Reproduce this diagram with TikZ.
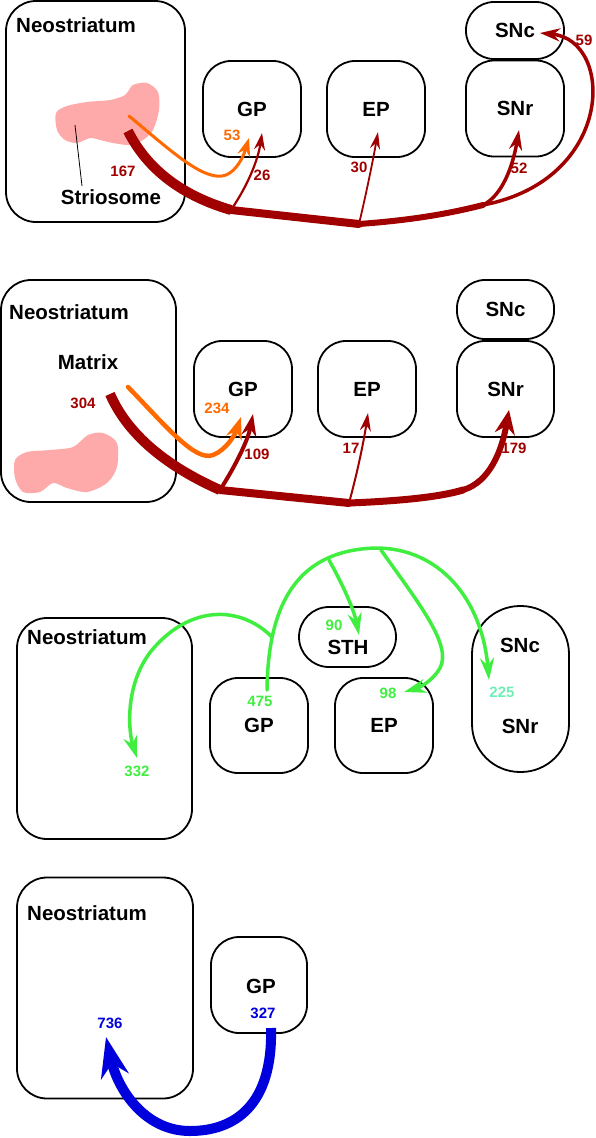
\documentclass[tikz,border=0pt]{standalone}
\usepackage{fontspec}
\setmainfont{Liberation Sans}
\usetikzlibrary{arrows.meta}
\usetikzlibrary{positioning}

\definecolor{tractred}{RGB}{160,0,0}
\definecolor{tractorange}{RGB}{255,105,0}
\definecolor{patchpink}{RGB}{255,170,170}
\definecolor{pallgreen}{RGB}{64,238,64}
\definecolor{pallaqua}{RGB}{110,238,180}
\definecolor{pallblue}{RGB}{0,0,220}

\newcommand{\nucfont}{\fontsize{20.5}{22}\selectfont\bfseries}
\newcommand{\cntfont}{\fontsize{15}{16}\selectfont\bfseries}

\tikzset{
  nucleus/.style={draw, line width=1.8pt, rounded corners=28pt, minimum width=98pt, minimum height=96pt, inner sep=0pt, font=\nucfont},
  pill/.style={nucleus, minimum height=58pt},
  striatum/.style={draw, line width=1.8pt, rounded corners=30pt, minimum width=176pt, minimum height=221pt},
  txt/.style={inner sep=0pt, font=\nucfont},
  cnt/.style={inner sep=0pt, font=\cntfont},
  tract/.style={draw=tractred, line cap=round, line join=round},
  pall/.style={draw=pallgreen, line width=3.5pt, line cap=round, -{Stealth[length=22pt,width=14pt]}},
}

\begin{document}
\begin{tikzpicture}[x=1pt, y=-1pt]
    \useasboundingbox (0,0) rectangle (596,1138);

    % ---------- striosome output (top) ----------
    \node[striatum, minimum width=179pt] (ns1) at (95.5,111.5) {};
    \node[txt, anchor=west] (ns1lab) at (16,25) {Neostriatum};
    % striosome patch
    \fill[patchpink] plot[smooth cycle] coordinates {(56,113) (67,106) (87,102) (110,100) (125,95) (133,85) (147,83) (158,92) (159,110) (153,130) (143,140) (130,145) (113,143) (100,140) (90,138) (77,143) (65,140) (57,130)};
    \node[txt] (strio) at (111,197) {Striosome};
    \coordinate (strioin) at (75,125);
    \coordinate (strioout) at (82,186);
    \draw[line width=0.8pt] (strioin) -- (strioout);
    \node[nucleus] (gp1) at (252,109) {GP};
    \node[nucleus] (ep1) at (376,109) {EP};
    \node[nucleus] (snr1) at (515,108.5) {SNr};
    \node[pill, minimum height=57pt] (snc1) at (515,30.5) {SNc};
    % junctions and arrow ends
    \coordinate (s1) at (128,131);
    \coordinate (c1) at (231,210);
    \coordinate (j1) at (359,224);
    \coordinate (j2) at (483,205);
    \coordinate (o1) at (129,116);
    \coordinate (gp1in) at (262,133);
    \coordinate (gp1or) at (249,138);
    \coordinate (ep1in) at (378,132);
    \coordinate (snr1in) at (519,130);
    \coordinate (snc1in) at (540,33);
    % main trunk
    \draw[tract, line width=10pt, line cap=butt] (s1) .. controls (150,175) and (190,198) .. (c1);
    \draw[tract, line width=8pt] (c1) -- (j1);
    \draw[tract, line width=6pt] (j1) .. controls (400,221) and (440,216) .. (j2);
    % branches
    \draw[tract, line width=2.2pt, -{Stealth[length=17pt,width=11pt]}] (c1) .. controls (248,185) and (258,160) .. (gp1in);
    \draw[tract, line width=1.8pt, -{Stealth[length=17pt,width=10pt]}] (j1) .. controls (367,190) and (373,160) .. (ep1in);
    \draw[tract, line width=3.5pt, -{Stealth[length=20pt,width=13pt]}] (j2) .. controls (503,195) and (513,165) .. (snr1in);
    \draw[tract, line width=3.5pt, -{Stealth[length=20pt,width=13pt]}] (j2) .. controls (615,180) and (615,40) .. (snc1in);
    \draw[draw=tractorange, line width=3pt, line cap=round, -{Stealth[length=18pt,width=13pt]}] (o1) .. controls (170,150) and (205,183) .. (226,175) .. controls (236,171) and (243,158) .. (gp1or);
    % counts
    \node[cnt, tractred] (n167) at (123,171) {167};
    \node[cnt, tractorange] (n53) at (232,135) {53};
    \node[cnt, tractred] (n26) at (262,175) {26};
    \node[cnt, tractred] (n30) at (359,167) {30};
    \node[cnt, tractred] (n52) at (519,168) {52};
    \node[cnt, tractred] (n59) at (584,40) {59};

    % ---------- matrix output ----------
    \node[striatum, minimum width=175pt, minimum height=222pt] (ns2) at (88.5,391) {};
    \node[txt, anchor=west] (ns2lab) at (9,312) {Neostriatum};
    \node[txt] (matrix) at (88,362) {Matrix};
    \fill[patchpink] plot[smooth cycle] coordinates {(15,460) (27,452) (50,450) (73,447) (88,435) (103,433) (117,443) (117,467) (107,483) (87,492) (67,488) (53,483) (40,492) (23,492) (15,478)};
    \node[nucleus] (gp2) at (243,389) {GP};
    \node[nucleus] (ep2) at (367,389) {EP};
    \node[nucleus, minimum width=97pt] (snr2) at (505.5,389) {SNr};
    \node[pill, minimum width=97pt, minimum height=59pt] (snc2) at (505.5,309.5) {SNc};
    \coordinate (s2) at (110,394);
    \coordinate (c2) at (220,490);
    \coordinate (j3) at (349,503);
    \coordinate (j4) at (463,490);
    \coordinate (o2) at (128,387);
    \coordinate (gp2in) at (253,414);
    \coordinate (gp2or) at (241,417);
    \coordinate (ep2in) at (368,413);
    \coordinate (snr2in) at (509,410);
    \draw[tract, line width=10pt, line cap=butt] (s2) .. controls (130,440) and (175,470) .. (c2);
    \draw[tract, line width=8pt] (c2) -- (j3);
    \draw[tract, line width=7pt] (j3) .. controls (400,501) and (440,497) .. (j4);
    \draw[tract, line width=6pt, -{Stealth[length=24pt,width=20pt]}] (j4) .. controls (490,482) and (502,450) .. (snr2in);
    \draw[tract, line width=4pt, -{Stealth[length=22pt,width=15pt]}] (c2) .. controls (236,465) and (248,440) .. (gp2in);
    \draw[tract, line width=2pt, -{Stealth[length=18pt,width=11pt]}] (j3) .. controls (358,470) and (364,440) .. (ep2in);
    \draw[draw=tractorange, line width=4.5pt, line cap=round, -{Stealth[length=22pt,width=16pt]}] (o2) .. controls (165,425) and (195,462) .. (213,455) .. controls (226,450) and (235,435) .. (gp2or);
    \node[cnt, tractred] (n304) at (83,403) {304};
    \node[cnt, tractorange] (n234) at (217,408) {234};
    \node[cnt, tractred] (n109) at (257,454) {109};
    \node[cnt, tractred] (n17) at (351,448) {17};
    \node[cnt, tractred] (n179) at (514,448) {179};

    % ---------- GP output ----------
    \node[striatum, minimum width=175pt] (ns3) at (104.5,728.5) {};
    \node[txt, anchor=west] (ns3lab) at (27,637) {Neostriatum};
    \node[nucleus, minimum height=95pt] (gp3) at (259,725.5) {GP};
    \node[nucleus, minimum height=95pt] (ep3) at (384,725.5) {EP};
    \node[pill, minimum width=97pt, minimum height=60pt, rounded corners=30pt] (sth3) at (347.5,637) {};
    \node[txt] (sth3lab) at (348,647) {STH};
    \node[nucleus, minimum width=97pt, minimum height=166pt, rounded corners=48pt] (sn3) at (520.5,689) {};
    \node[txt] (snc3lab) at (520,645) {SNc};
    \node[txt] (snr3lab) at (520,726) {SNr};
    \coordinate (g0) at (267,690);
    \coordinate (g1) at (272,637);
    \coordinate (g2) at (329,560);
    \coordinate (g3) at (381,550);
    \coordinate (ns3in) at (137,758);
    \coordinate (sth3in) at (359,635);
    \coordinate (ep3in) at (404,692);
    \coordinate (sn3in) at (489,680);
    \draw[pall] (g0) .. controls (268,600) and (300,550) .. (376,548) .. controls (440,548) and (482,600) .. (sn3in);
    \draw[pall] (g1) .. controls (240,605) and (190,605) .. (152,650) .. controls (125,683) and (128,730) .. (ns3in);
    \draw[pall] (g2) .. controls (343,585) and (354,610) .. (sth3in);
    \draw[pall] (g3) .. controls (420,605) and (452,645) .. (440,668) .. controls (432,682) and (418,688) .. (ep3in);
    \node[cnt, pallgreen] (n332) at (137,771) {332};
    \node[cnt, pallgreen] (n475) at (260,701) {475};
    \node[cnt, pallgreen] (n90) at (334,625) {90};
    \node[cnt, pallgreen] (n98) at (388,693) {98};
    \node[cnt, pallaqua] (n225) at (502,692) {225};

    % ---------- GP back to neostriatum ----------
    \node[striatum] (ns4) at (105,988) {};
    \node[txt, anchor=west] (ns4lab) at (27,913) {Neostriatum};
    \node[nucleus, minimum width=96pt] (gp4) at (259,985) {};
    \node[txt] (gp4lab) at (261,986) {GP};
    \coordinate (b0) at (271,1028);
    \coordinate (ns4in) at (106,1037);
    \draw[draw=pallblue, line width=10pt, -{Stealth[length=40pt,width=28pt]}] (b0) .. controls (273,1105) and (235,1131) .. (190,1131) .. controls (145,1131) and (118,1090) .. (ns4in);
    \node[cnt, pallblue] (n736) at (110,1023) {736};
    \node[cnt, pallblue] (n327) at (263,1013) {327};
\end{tikzpicture}
\end{document}
